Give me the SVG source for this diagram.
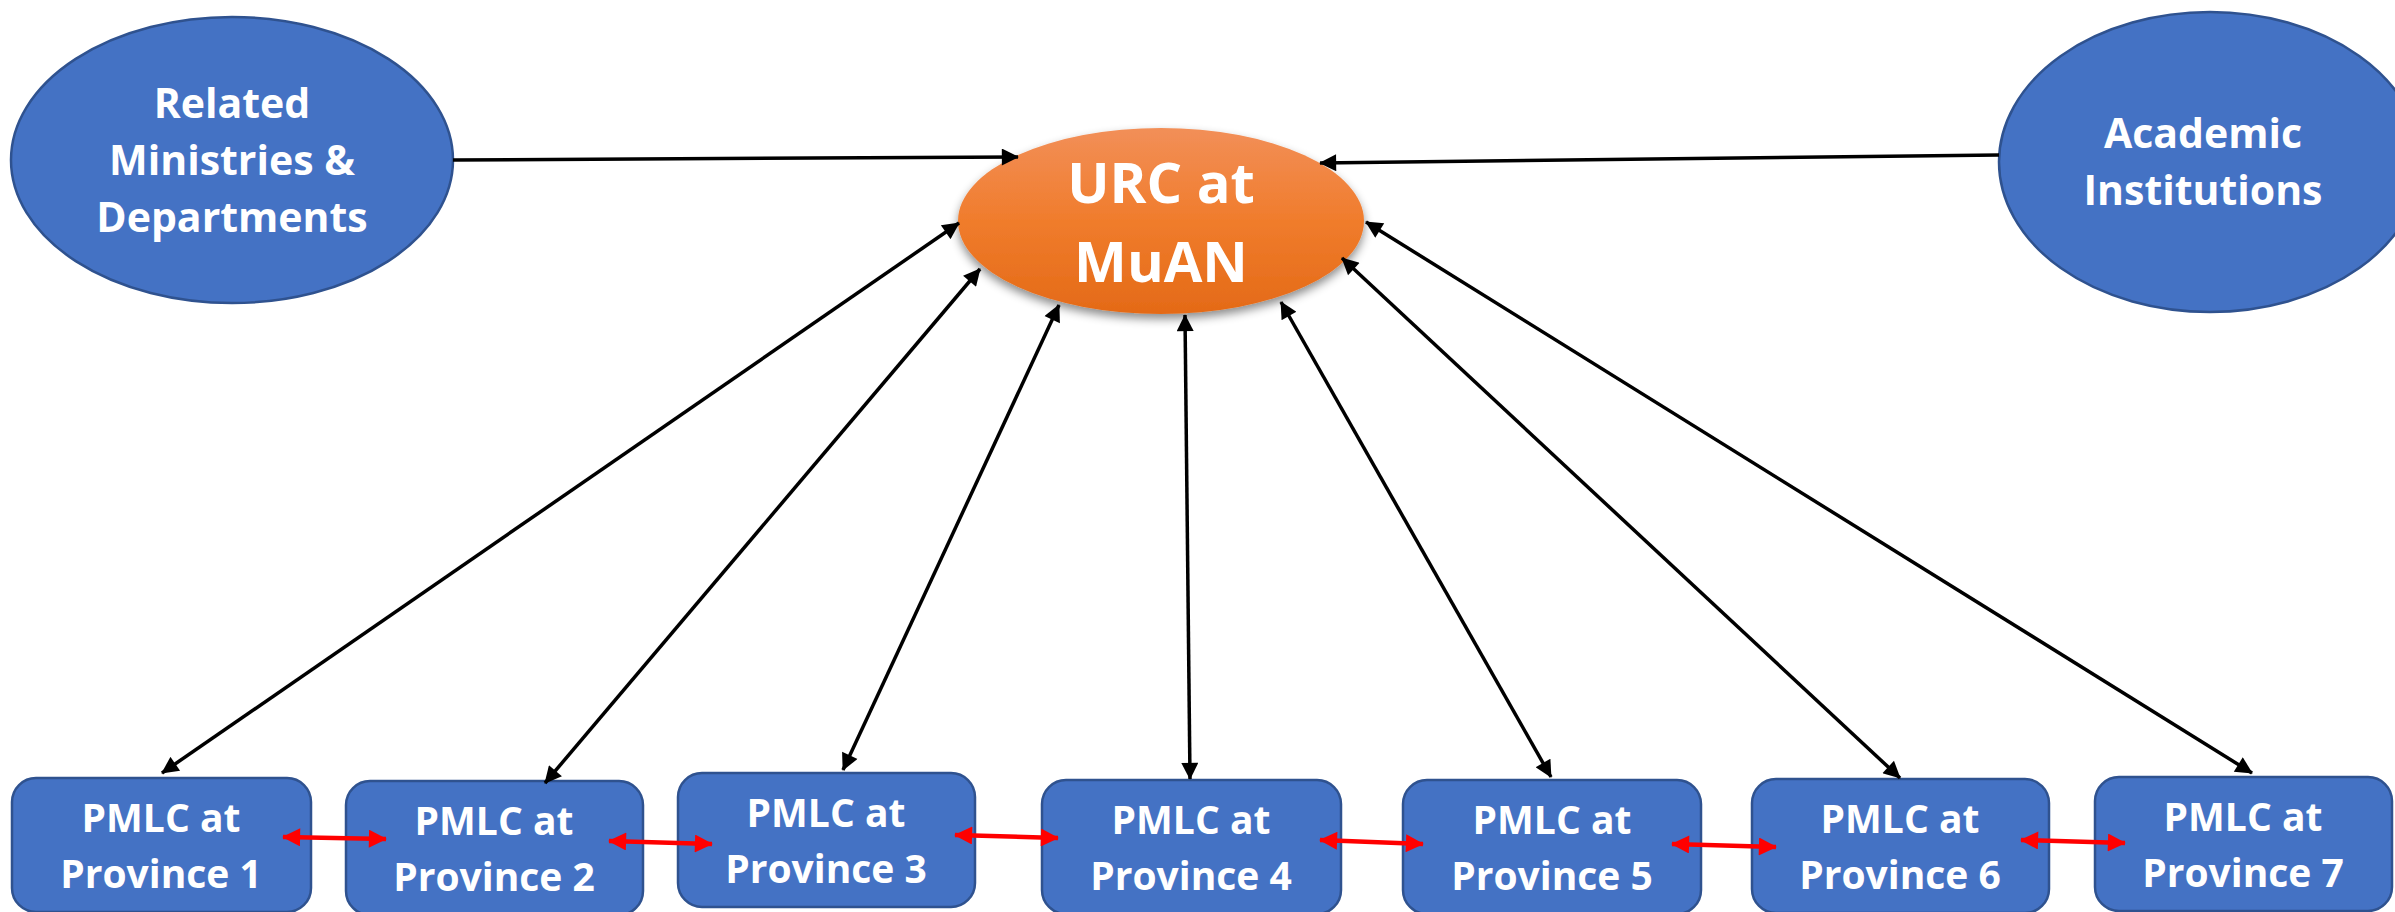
<svg xmlns="http://www.w3.org/2000/svg" width="2395" height="912" viewBox="0 0 2395 912">
<style>
.blue{fill:#4472C4;stroke:#2F528F;stroke-width:2.5}
.lbl{font-family:"Open Sans","Liberation Sans",sans-serif;font-weight:bold;fill:#ffffff;text-anchor:middle}
.big{font-size:41px}
.box{font-size:39px}
.urc{font-size:56px}
.blk{stroke:#000;stroke-width:3.5;fill:none;marker-end:url(#ab);}
.dbl{marker-start:url(#ab)}
.red{stroke:#FF0000;stroke-width:4.5;fill:none;marker-start:url(#ar);marker-end:url(#ar)}
</style>
<defs>
<marker id="ab" viewBox="0 0 10 10" refX="9.5" refY="5" markerUnits="userSpaceOnUse" markerWidth="19" markerHeight="17" orient="auto-start-reverse"><path d="M0,0 L10,5 L0,10 z" fill="#000"/></marker>
<marker id="ar" viewBox="0 0 10 10" refX="9.5" refY="5" markerUnits="userSpaceOnUse" markerWidth="19" markerHeight="18" orient="auto-start-reverse"><path d="M0,0 L10,5 L0,10 z" fill="#FF0000"/></marker>
<linearGradient id="og" x1="0" y1="0" x2="0" y2="1"><stop offset="0" stop-color="#F28F58"/><stop offset="0.5" stop-color="#F07C2C"/><stop offset="1" stop-color="#E46A17"/></linearGradient>
<filter id="sh" x="-10%" y="-10%" width="120%" height="130%"><feDropShadow dx="0" dy="5" stdDeviation="5" flood-color="#000" flood-opacity="0.45"/></filter>
</defs>
<g id="related">
<ellipse class="blue" cx="232" cy="160" rx="221" ry="143"/>
<text class="lbl big" x="232" y="118">Related</text>
<text class="lbl big" x="232" y="175">Ministries &amp;</text>
<text class="lbl big" x="232" y="232">Departments</text>
</g>
<g id="academic">
<ellipse class="blue" cx="2210" cy="162" rx="211" ry="150"/>
<text class="lbl big" x="2203" y="148">Academic</text>
<text class="lbl big" x="2203" y="205">Institutions</text>
</g>
<g id="urc">
<ellipse cx="1161" cy="221" rx="203" ry="93" fill="url(#og)" filter="url(#sh)"/>
<text class="lbl urc" x="1161" y="203">URC at</text>
<text class="lbl urc" x="1161" y="282">MuAN</text>
</g>
<g id="p1">
<rect class="blue" x="12" y="778" width="299" height="134" rx="24"/>
<text class="lbl box" x="161" y="832">PMLC at</text>
<text class="lbl box" x="161" y="888">Province 1</text>
</g>
<g id="p2">
<rect class="blue" x="346" y="781" width="297" height="134" rx="24"/>
<text class="lbl box" x="494" y="835">PMLC at</text>
<text class="lbl box" x="494" y="891">Province 2</text>
</g>
<g id="p3">
<rect class="blue" x="678" y="773" width="297" height="134" rx="24"/>
<text class="lbl box" x="826" y="827">PMLC at</text>
<text class="lbl box" x="826" y="883">Province 3</text>
</g>
<g id="p4">
<rect class="blue" x="1042" y="780" width="299" height="134" rx="24"/>
<text class="lbl box" x="1191" y="834">PMLC at</text>
<text class="lbl box" x="1191" y="890">Province 4</text>
</g>
<g id="p5">
<rect class="blue" x="1403" y="780" width="298" height="134" rx="24"/>
<text class="lbl box" x="1552" y="834">PMLC at</text>
<text class="lbl box" x="1552" y="890">Province 5</text>
</g>
<g id="p6">
<rect class="blue" x="1752" y="779" width="297" height="134" rx="24"/>
<text class="lbl box" x="1900" y="833">PMLC at</text>
<text class="lbl box" x="1900" y="889">Province 6</text>
</g>
<g id="p7">
<rect class="blue" x="2095" y="777" width="297" height="134" rx="24"/>
<text class="lbl box" x="2243" y="831">PMLC at</text>
<text class="lbl box" x="2243" y="887">Province 7</text>
</g>
<g id="connectors">
<line class="blk" x1="453" y1="160" x2="1018" y2="157"/>
<line class="blk" x1="1999" y1="155" x2="1320" y2="163"/>
<line class="blk dbl" x1="162" y1="773" x2="959" y2="223"/>
<line class="blk dbl" x1="545" y1="783" x2="980" y2="269"/>
<line class="blk dbl" x1="843" y1="770" x2="1059" y2="305"/>
<line class="blk dbl" x1="1190" y1="779" x2="1185" y2="315"/>
<line class="blk dbl" x1="1551" y1="777" x2="1281" y2="302"/>
<line class="blk dbl" x1="1900" y1="778" x2="1342" y2="258"/>
<line class="blk dbl" x1="2252" y1="773" x2="1366" y2="222"/>
<line class="red" x1="283" y1="837" x2="386" y2="839"/>
<line class="red" x1="609" y1="841" x2="712" y2="844"/>
<line class="red" x1="955" y1="835" x2="1058" y2="838"/>
<line class="red" x1="1320" y1="840" x2="1423" y2="844"/>
<line class="red" x1="1672" y1="844" x2="1776" y2="847"/>
<line class="red" x1="2021" y1="840" x2="2125" y2="843"/>
</g>
</svg>
